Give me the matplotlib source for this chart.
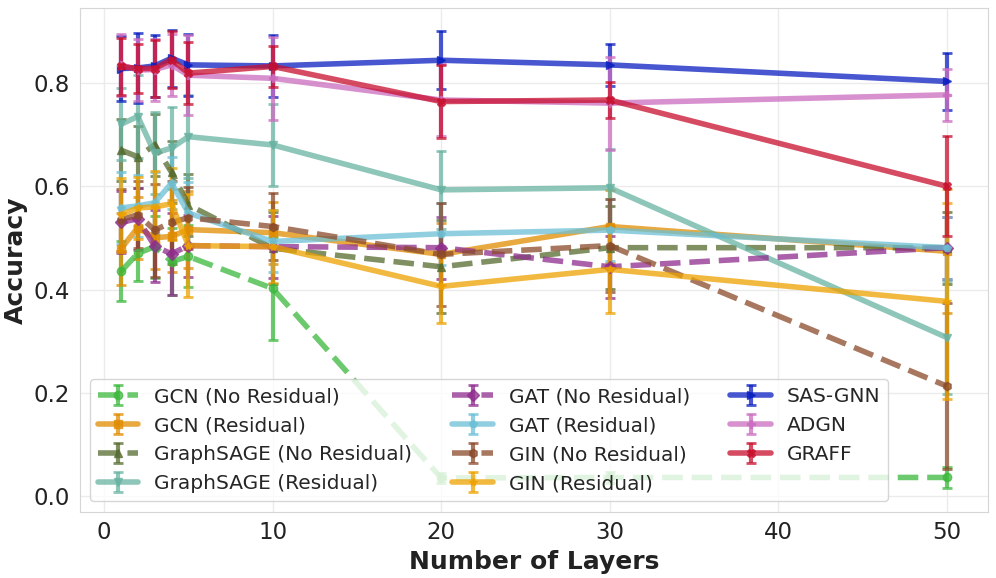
import numpy as np
import matplotlib
matplotlib.use("Agg")
import matplotlib.pyplot as plt
import seaborn as sns

sns.set_style("whitegrid")
plt.rcParams["font.family"] = ["DejaVu Sans"]

layers = [1, 2, 3, 4, 5, 10, 20, 30, 50]

labels = [
    "GCN (No Residual)", "GCN (Residual)",
    "GraphSAGE (No Residual)", "GraphSAGE (Residual)",
    "GAT (No Residual)", "GAT (Residual)",
    "GIN (No Residual)", "GIN (Residual)",
    "SAS-GNN", "ADGN", "GRAFF",
]

# mean accuracy per depth
gcn_nr = [0.435, 0.470, 0.483, 0.454, 0.464, 0.402, 0.035, 0.036, 0.036]
gcn_res = [0.479, 0.520, 0.500, 0.503, 0.516, 0.510, 0.468, 0.522, 0.474]
sage_nr = [0.670, 0.657, 0.680, 0.627, 0.564, 0.480, 0.444, 0.481, 0.481]
sage_res = [0.720, 0.735, 0.664, 0.674, 0.696, 0.680, 0.593, 0.597, 0.307]
gat_nr = [0.530, 0.537, 0.484, 0.469, 0.485, 0.483, 0.481, 0.444, 0.481]
gat_res = [0.558, 0.562, 0.568, 0.606, 0.548, 0.493, 0.508, 0.515, 0.481]
gin_nr = [0.535, 0.545, 0.515, 0.530, 0.539, 0.522, 0.468, 0.485, 0.213]
gin_res = [0.545, 0.558, 0.560, 0.566, 0.485, 0.483, 0.406, 0.439, 0.377]
sas_gnn = [0.828, 0.829, 0.833, 0.848, 0.835, 0.833, 0.844, 0.835, 0.803]
adgn = [0.835, 0.825, 0.826, 0.835, 0.815, 0.809, 0.767, 0.761, 0.777]
graff = [0.832, 0.828, 0.828, 0.845, 0.819, 0.832, 0.764, 0.767, 0.600]

# standard deviations
gcn_nr_sd = [0.058, 0.053, 0.060, 0.065, 0.060, 0.100, 0.010, 0.010, 0.020]
gcn_res_sd = [0.070, 0.060, 0.060, 0.070, 0.075, 0.060, 0.060, 0.070, 0.120]
sage_nr_sd = [0.060, 0.060, 0.060, 0.060, 0.060, 0.070, 0.090, 0.080, 0.070]
sage_res_sd = [0.070, 0.080, 0.080, 0.080, 0.080, 0.080, 0.076, 0.075, 0.110]
gat_nr_sd = [0.060, 0.060, 0.070, 0.080, 0.060, 0.060, 0.060, 0.060, 0.060]
gat_res_sd = [0.070, 0.060, 0.060, 0.050, 0.060, 0.060, 0.060, 0.060, 0.060]
gin_nr_sd = [0.060, 0.065, 0.090, 0.080, 0.060, 0.065, 0.100, 0.090, 0.160]
gin_res_sd = [0.070, 0.060, 0.070, 0.070, 0.100, 0.070, 0.070, 0.084, 0.190]
sas_gnn_sd = [0.062, 0.067, 0.060, 0.055, 0.060, 0.060, 0.056, 0.040, 0.055]
adgn_sd = [0.060, 0.060, 0.060, 0.060, 0.077, 0.080, 0.070, 0.090, 0.050]
graff_sd = [0.055, 0.047, 0.055, 0.055, 0.060, 0.040, 0.070, 0.035, 0.097]

means = [gcn_nr, gcn_res, sage_nr, sage_res, gat_nr, gat_res,
         gin_nr, gin_res, sas_gnn, adgn, graff]
sds = [gcn_nr_sd, gcn_res_sd, sage_nr_sd, sage_res_sd, gat_nr_sd, gat_res_sd,
       gin_nr_sd, gin_res_sd, sas_gnn_sd, adgn_sd, graff_sd]

colors = ["#3cb83c", "#e08c00", "#556b2f", "#69b3a2", "#8e2c8e", "#6cc0d6",
          "#8b4a2b", "#eea200", "#0a1fc0", "#cc6cc0", "#c8102e"]
markers = ["o", "s", "^", "v", "D", "p", "h", "*", ">", "P", "X"]
styles = ["--", "-", "--", "-", "--", "-", "--", "-", "-", "-", "-"]

fig, ax = plt.subplots(figsize=(9.96, 5.78), dpi=100)

for m, s, lab, c, mk, ls in zip(means, sds, labels, colors, markers, styles):
    ax.errorbar(layers, m, yerr=s, label=lab, color=c, marker=mk, linestyle=ls,
                linewidth=4, markersize=6, elinewidth=3, capsize=3.5, capthick=2,
                alpha=0.75)

ax.set_xlabel("Number of Layers", fontsize=18, fontweight="bold", color="#222222")
ax.set_ylabel("Accuracy", fontsize=18, fontweight="bold", color="#222222")
ax.tick_params(labelsize=16.5, labelcolor="#222222")
ax.set_xticks([0, 10, 20, 30, 40, 50])
ax.set_yticks([0.0, 0.2, 0.4, 0.6, 0.8])
ax.set_ylim(-0.03, 0.945)
ax.grid(color="#ebebeb", linewidth=1)
for sp in ax.spines.values():
    sp.set_color("#d6d6d6")

ax.legend(ncol=3, fontsize=14.5, loc="lower left", framealpha=0.8)

fig.subplots_adjust(left=0.08, right=0.992, top=0.986, bottom=0.115)
fig.savefig("out.png", dpi=100)
